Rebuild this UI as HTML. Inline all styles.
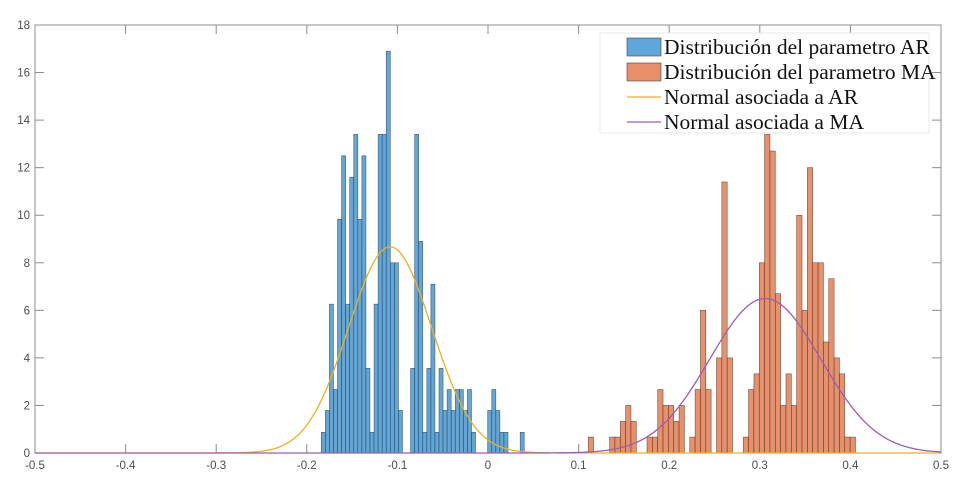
<!DOCTYPE html>
<html><head><meta charset="utf-8"><style>
body{margin:0;background:#fff;width:969px;height:494px;overflow:hidden}
svg text{font-family:"Liberation Sans",sans-serif;font-size:11.5px;fill:#4d4d4d}
.lg{font-family:"Liberation Serif",serif;font-size:21.5px;fill:#111}
</style></head><body>
<svg id="c" width="969" height="494" xmlns="http://www.w3.org/2000/svg"></svg>
<script>
const arStart=-0.184, arWidth=0.00448;
const arValues=[0.87,1.79,6.26,2.67,9.83,12.5,6.26,11.6,13.4,9.83,12.5,3.56,0.87,6.26,13.4,13.4,16.9,8.0,8.0,1.79,0,0,3.56,13.4,8.9,0.87,3.56,7.1,0.87,3.56,1.79,2.67,1.79,2.67,2.67,1.79,2.67,0.87,0,0,0,1.79,2.67,1.79,0.87,0.87,0,0,0,0.87];
const maStart=0.1106, maWidth=0.0059;
const maValues=[0.67,0,0,0,0.67,0.67,1.33,2.0,1.33,0,0,0.67,0.67,2.67,2.0,2.0,1.33,2.0,0,0.67,2.67,6.0,2.67,0,4.0,11.4,4.0,0,0,0.67,2.67,3.33,8.0,13.4,12.7,6.7,2.0,3.33,2.0,10.0,6.0,12.0,8.0,8.0,4.67,7.33,4.0,3.33,0.67,0.67];
const arMean=-0.108, arSigma=0.046;
const maMean=0.306, maSigma=0.0614;
const xTicks=[-0.5,-0.4,-0.3,-0.2,-0.1,0,0.1,0.2,0.3,0.4,0.5];
const yTicks=[0,2,4,6,8,10,12,14,16,18];

const NS="http://www.w3.org/2000/svg";
const svg=document.getElementById('c');
const L=35,R=941,T=25,B=453;
const X=v=>L+(v+0.5)*(R-L);
const Y=v=>B-v/18*(B-T);
function mk(tag,attrs,parent){const e=document.createElementNS(NS,tag);for(const k in attrs)e.setAttribute(k,attrs[k]);(parent||svg).appendChild(e);return e;}

const frame=mk('rect',{x:L,y:T,width:R-L,height:B-T,fill:'none',stroke:'#8c8c8c','stroke-width':1});



xTicks.forEach(t=>{
  const tk=mk('line',{x1:X(t),x2:X(t),y1:B,y2:B-9,stroke:'#8c8c8c'});
  
  
  const tk2=mk('line',{x1:X(t),x2:X(t),y1:T,y2:T+9,stroke:'#8c8c8c'});
  
  
  const tx=mk('text',{x:X(t),y:B+16,'text-anchor':'middle'});
  tx.textContent=String(t);
  
  
});
yTicks.forEach(t=>{
  const tk=mk('line',{x1:L,x2:L+9,y1:Y(t),y2:Y(t),stroke:'#8c8c8c'});
  
  
  const tk2=mk('line',{x1:R,x2:R-9,y1:Y(t),y2:Y(t),stroke:'#8c8c8c'});
  
  
  const tx=mk('text',{x:L-5,y:Y(t)+4,'text-anchor':'end'});
  tx.textContent=String(t);
  
  
});

function bars(start,w,vals,fill,name){
  vals.forEach((v,i)=>{
    if(v<=0)return;
    const x0=X(start+i*w),x1=X(start+(i+1)*w);
    const r=mk('rect',{x:x0,y:Y(v),width:x1-x0,height:B-Y(v),fill:fill,stroke:'#2a2a2a','stroke-width':0.6,'stroke-opacity':0.7});
    
    
  });
}
bars(arStart,arWidth,arValues,'#5fa7da','ar-bar');
bars(maStart,maWidth,maValues,'#e9906a','ma-bar');

function curve(m,s,color,name){
  let d='';
  for(let i=0;i<=400;i++){
    const x=-0.5+i/400;
    const y=Math.exp(-0.5*((x-m)/s)**2)/(s*Math.sqrt(2*Math.PI));
    d+=(i?'L':'M')+X(x).toFixed(2)+','+Y(y).toFixed(2);
  }
  const p=mk('path',{d:d,fill:'none',stroke:color,'stroke-width':1.3});
  
  
}
curve(arMean,arSigma,'#edb120','ar-normal-curve');
curve(maMean,maSigma,'#a05cb0','ma-normal-curve');

const lg=mk('g',{});


mk('rect',{x:600,y:33,width:329,height:100,fill:'#fff',stroke:'#e4e4e4','stroke-width':0.8},lg);
const items=[['patch','#5fa7da','Distribución del parametro AR'],['patch','#e9906a','Distribución del parametro MA'],['line','#edb120','Normal asociada a AR'],['line','#a05cb0','Normal asociada a MA']];
items.forEach((it,i)=>{
  const cy=47+i*25;
  const g=mk('g',{},lg);
  
  
  if(it[0]==='patch')mk('rect',{x:627,y:cy-9,width:34,height:18,fill:it[1],stroke:'#444','stroke-width':0.6},g);
  else mk('line',{x1:627,x2:661,y1:cy,y2:cy,stroke:it[1],'stroke-width':1.3},g);
  const t=mk('text',{x:664,y:cy+7,class:'lg'},g);
  t.textContent=it[2];
});
</script>
</body></html>
